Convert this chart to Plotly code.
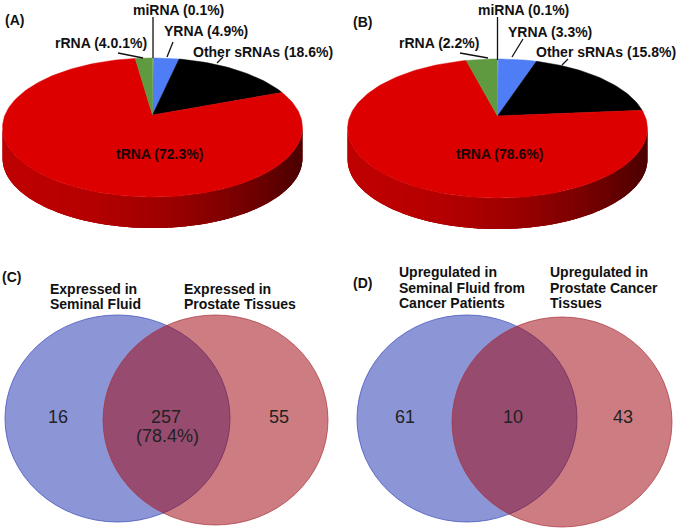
import numpy as np
import plotly.graph_objects as go

# ---------------- data ----------------
categories = ["miRNA", "YRNA", "Other sRNAs", "tRNA", "rRNA"]
# slice sizes as drawn in each pie (clockwise from 12 o'clock)
pie_a_values = [0.1, 3.3, 15.8, 78.6, 2.2]
pie_b_values = [0.1, 4.9, 18.6, 72.3, 4.0]
# label texts as printed
pie_a_labels = ["miRNA (0.1%)", "YRNA (4.9%)", "Other sRNAs (18.6%)", "tRNA (72.3%)", "rRNA (4.0.1%)"]
pie_b_labels = ["miRNA (0.1%)", "YRNA (3.3%)", "Other sRNAs (15.8%)", "tRNA (78.6%)", "rRNA (2.2%)"]
slice_colors = ["#ece6b0", "#4f7df5", "#000000", "#dd0000", "#609a40"]

venn_c_sets = [["Expressed in", "Seminal Fluid"], ["Expressed in", "Prostate Tissues"]]
venn_c_counts = [16, 257, 55]
venn_c_overlap_pct = "(78.4%)"
venn_d_sets = [["Upregulated in", "Seminal Fluid from", "Cancer Patients"],
               ["Upregulated in", "Prostate Cancer", "Tissues"]]
venn_d_counts = [61, 10, 43]

# ---------------- geometry / style ----------------
W, H = 681, 530
K, RA, RB, DEPTH = 0.18, 147.5, 67.3, 31
FONT = "Liberation Sans, Arial, sans-serif"


def proj(theta_deg, cx, cy, dy=0.0):
    t = np.radians(theta_deg)
    X, Z = np.sin(t), np.cos(t)
    w = 1 + K * Z
    return cx + RA * X / w, cy - RB * Z / w + dy


def hex_rgb(h):
    h = h.lstrip("#")
    return [int(h[i:i + 2], 16) for i in (0, 2, 4)]


fig = go.Figure()


def add_poly(xs, ys, color, lw=0):
    fig.add_trace(go.Scatter(x=list(xs), y=list(ys), mode="lines", fill="toself",
                             fillcolor=color, line=dict(color=color, width=lw),
                             hoverinfo="skip", showlegend=False))


def shade(base, xm, cx):
    tt = np.clip((xm - (cx - 150)) / 300, 0, 1)
    f = 0.86 - 0.52 * tt ** 2
    return "rgb(%d,%d,%d)" % tuple(int(v * f) for v in base)


def draw_pie(values, cx, cy):
    total = sum(values)
    bounds = np.concatenate([[0], np.cumsum(values)]) / total * 360.0
    th1 = np.degrees(np.arccos(-K))
    vis = (th1, 360 - th1)
    # side (front rim)
    for i, col in enumerate(slice_colors):
        s, e = max(bounds[i], vis[0]), min(bounds[i + 1], vis[1])
        if e <= s:
            continue
        base = hex_rgb(col)
        ts_all = np.linspace(s, e, 120)
        xt, yt = proj(ts_all, cx, cy)
        xb, yb = proj(ts_all[::-1], cx, cy, DEPTH)
        add_poly(list(xt) + list(xb), list(yt) + list(yb), shade(base, cx, cx))
        ts = np.linspace(s, e, max(2, int((e - s) / 1.5) + 1))
        step = ts[1] - ts[0]
        for a, b in zip(ts[:-1], ts[1:]):
            a2, b2 = max(s, a - 0.4 * step), min(e, b + 0.4 * step)
            x1, y1 = proj(a2, cx, cy)
            x2, y2 = proj(b2, cx, cy)
            xm = (x1 + x2) / 2
            add_poly([x1, x2, x2, x1, x1], [y1, y2, y2 + DEPTH, y1 + DEPTH, y1], shade(base, xm, cx))
    # top face
    for i, col in enumerate(slice_colors):
        s, e = bounds[i], bounds[i + 1]
        ts = np.linspace(s, e, max(3, int((e - s) / 1.5) + 2))
        xs, ys = proj(ts, cx, cy)
        add_poly([cx] + list(xs) + [cx], [cy] + list(ys) + [cy], col, lw=0.5)


draw_pie(pie_a_values, 152.5, 115)
draw_pie(pie_b_values, 497.5, 116)

annotations = []


def txt(x, y, s, size=14, bold=True, color="#111111", anchor="center"):
    annotations.append(dict(x=x, y=y, xref="x", yref="y", text=("<b>%s</b>" % s) if bold else s,
                            showarrow=False, xanchor=anchor, yanchor="middle",
                            font=dict(family=FONT, size=size, color=color)))


shapes = []


def leader(x0, y0, x1, y1):
    shapes.append(dict(type="line", xref="x", yref="y", x0=x0, y0=y0, x1=x1, y1=y1,
                       line=dict(color="#111111", width=1.3)))


# pie A labels
txt(14, 20, "(A)")
txt(178, 10, pie_a_labels[0])
txt(205.5, 31, pie_a_labels[1])
txt(262.5, 52, pie_a_labels[2])
txt(159, 154, pie_a_labels[3], color="#1a0404")
txt(100.5, 43, pie_a_labels[4])
leader(153, 17, 153, 58)
leader(173, 42, 167, 57)
leader(118, 53, 143, 58)
leader(223, 57, 217, 63)

# pie B labels
txt(362, 22, "(B)")
txt(523.5, 10, pie_b_labels[0])
txt(549.5, 32, pie_b_labels[1])
txt(606, 52, pie_b_labels[2])
txt(499, 154, pie_b_labels[3], color="#1a0404")
txt(439, 43, pie_b_labels[4])
leader(497.5, 17, 497.5, 60)
leader(523, 39, 512, 57)
leader(460, 53, 488, 58)
leader(568, 59, 562, 65)

# Venn diagrams
BLUE_FILL, BLUE_LINE = "#8c96d7", "rgba(70,85,190,0.8)"
RED_FILL, RED_LINE = "rgba(159,6,16,0.52)", "rgba(170,50,60,0.7)"


def venn(bx, rx, by, ry):
    shapes.append(dict(type="circle", xref="x", yref="y", x0=bx[0], x1=bx[1], y0=by[0], y1=by[1],
                       fillcolor=BLUE_FILL, line=dict(color=BLUE_LINE, width=1), layer="above"))
    shapes.append(dict(type="circle", xref="x", yref="y", x0=rx[0], x1=rx[1], y0=ry[0], y1=ry[1],
                       fillcolor=RED_FILL, line=dict(color=RED_LINE, width=1), layer="above"))


venn((5, 230), (103, 328), (315, 522), (315, 525))
venn((357, 577), (452, 672), (315, 522), (317, 527))

# panel C text
txt(11.5, 277, "(C)")
for i, line in enumerate(venn_c_sets[0]):
    txt(48, 289 + 15 * i, line, anchor="left")
for i, line in enumerate(venn_c_sets[1]):
    txt(182, 289 + 15 * i, line, anchor="left")
NUMC = "#222222"
txt(57.5, 417, str(venn_c_counts[0]), size=18, bold=False, color=NUMC)
txt(166, 417, str(venn_c_counts[1]), size=18, bold=False, color=NUMC)
txt(167.5, 436, venn_c_overlap_pct, size=18, bold=False, color=NUMC)
txt(278.5, 417, str(venn_c_counts[2]), size=18, bold=False, color=NUMC)

# panel D text
txt(362, 283, "(D)")
for i, line in enumerate(venn_d_sets[0]):
    txt(397, 272 + 15.5 * i, line, anchor="left")
for i, line in enumerate(venn_d_sets[1]):
    txt(548, 272 + 15.5 * i, line, anchor="left")
txt(405, 417, str(venn_d_counts[0]), size=18, bold=False, color=NUMC)
txt(513, 417, str(venn_d_counts[1]), size=18, bold=False, color=NUMC)
txt(622.5, 417, str(venn_d_counts[2]), size=18, bold=False, color=NUMC)

fig.update_layout(
    width=W, height=H, margin=dict(l=0, r=0, t=0, b=0),
    paper_bgcolor="white", plot_bgcolor="white",
    xaxis=dict(range=[0, W], visible=False, fixedrange=True),
    yaxis=dict(range=[H, 0], visible=False, fixedrange=True),
    shapes=shapes, annotations=annotations, showlegend=False,
)

# remove the default 8px page margin so the figure sits at the window's top-left corner
fig.write_html("out.html", config={"displayModeBar": False},
               post_script="document.body.style.margin='0';document.body.style.overflow='hidden';")
